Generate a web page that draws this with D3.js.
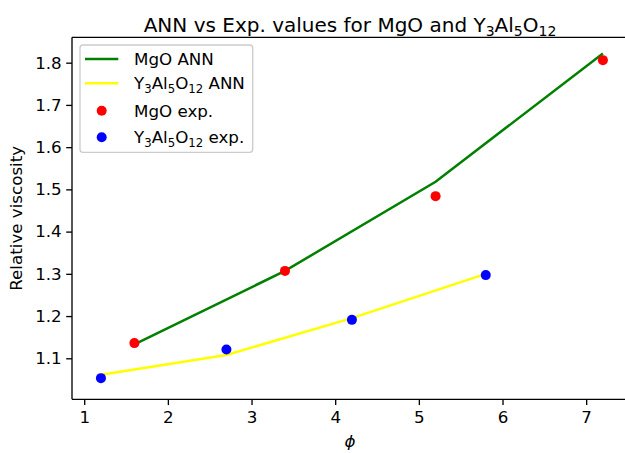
<!DOCTYPE html>
<html>
<head>
<meta charset="utf-8">
<script src="https://cdn.jsdelivr.net/npm/d3@7"></script>
<style>
  body { margin: 0; background: #fff; }
  text { font-family: "DejaVu Sans", sans-serif; fill: #000; }
</style>
</head>
<body>
<div id="vis"></div>
<script>
// values
const mgoAnnX = [1.6, 3.4, 5.2, 7.2]
const mgoAnnY = [1.133, 1.307, 1.518, 1.822]
const yagAnnX = [1.2, 2.7, 4.2, 5.8]
const yagAnnY = [1.061, 1.108, 1.195, 1.300]
const mgoExpX = [1.6, 3.4, 5.2, 7.2]
const mgoExpY = [1.136, 1.307, 1.484, 1.806]
const yagExpX = [1.2, 2.7, 4.2, 5.8]
const yagExpY = [1.053, 1.121, 1.191, 1.297]
const xTicks = [1, 2, 3, 4, 5, 6, 7]
const yTicks = [1.1, 1.2, 1.3, 1.4, 1.5, 1.6, 1.7, 1.8]

const W = 625, H = 453
const padL = 72, padR = 628, padT = 37.3, padB = 399.3

const svg = d3.select("#vis").append("svg").attr("width", W).attr("height", H)

const x = d3.scaleLinear().domain([0.854, 7.5]).range([padL, padR])
const y = d3.scaleLinear().domain([1.0029, 1.8601]).range([padB, padT])

const zip = (xs, ys) => xs.map((v, i) => [v, ys[i]])

// helper for "Y3Al5O12" style text with subscripts
function chem(sel, parts, size) {
    let shift = 0
    parts.forEach(p => {
        const sub = typeof p !== "string"
        const target = sub ? size * 0.2 : 0
        sel.append("tspan")
            .attr("font-size", sub ? size * 0.7 : size)
            .attr("dy", target - shift)
            .text(sub ? p.sub : p)
        shift = target
    })
}

const plot = svg.append("g")

const line = d3.line().x(d => x(d[0])).y(d => y(d[1]))

plot.append("path").datum(zip(mgoAnnX, mgoAnnY))
    .attr("d", line).attr("fill", "none").attr("stroke", "green").attr("stroke-width", 2.5)
plot.append("path").datum(zip(yagAnnX, yagAnnY))
    .attr("d", line).attr("fill", "none").attr("stroke", "yellow").attr("stroke-width", 2.5)

plot.selectAll(".mgo").data(zip(mgoExpX, mgoExpY)).enter().append("circle")
    .attr("cx", d => x(d[0])).attr("cy", d => y(d[1])).attr("r", 5).attr("fill", "red")
plot.selectAll(".yag").data(zip(yagExpX, yagExpY)).enter().append("circle")
    .attr("cx", d => x(d[0])).attr("cy", d => y(d[1])).attr("r", 5).attr("fill", "blue")

// axes
const xAxis = svg.append("g").attr("transform", `translate(0,${padB})`)
    .call(d3.axisBottom(x).tickValues(xTicks).tickSize(5.8).tickPadding(6).tickFormat(d3.format("d")))
const yAxis = svg.append("g").attr("transform", `translate(${padL},0)`)
    .call(d3.axisLeft(y).tickValues(yTicks).tickSize(5.8).tickPadding(4.5).tickFormat(d3.format(".1f")))

;[xAxis, yAxis].forEach(a => {
    a.select(".domain").attr("stroke", "#000").attr("stroke-width", 1.33)
    a.selectAll(".tick line").attr("stroke", "#000").attr("stroke-width", 1.33)
    a.selectAll(".tick text").attr("font-size", 16.7).attr("font-family", "DejaVu Sans").attr("fill", "#000")
})
xAxis.select(".domain").attr("d", `M${padL},0H${padR}`)
yAxis.select(".domain").attr("d", `M0,${padB}V${padT}`)
svg.append("line").attr("x1", padL).attr("x2", padR).attr("y1", padT).attr("y2", padT)
    .attr("stroke", "#000").attr("stroke-width", 1.33)

// labels
const title = svg.append("text").attr("x", (padL + padR) / 2).attr("y", 31.5).attr("text-anchor", "middle")
chem(title, ["ANN vs Exp. values for MgO and Y", {sub: "3"}, "Al", {sub: "5"}, "O", {sub: "12"}], 20)

svg.append("text").attr("transform", `translate(21.5,${(padT + padB) / 2}) rotate(-90)`)
    .attr("text-anchor", "middle").attr("font-size", 16.7).text("Relative viscosity")

svg.append("text").attr("x", (padL + padR) / 2).attr("y", 447).attr("text-anchor", "middle")
    .attr("font-size", 16.7).attr("font-style", "italic").text("ϕ")

// legend
const lg = svg.append("g")
lg.append("rect").attr("x", 80).attr("y", 45).attr("width", 172.7).attr("height", 107.3)
    .attr("rx", 3).attr("fill", "#fff").attr("fill-opacity", 0.8).attr("stroke", "#ccc").attr("stroke-width", 1.33)

const legendItems = [
    {kind: "line", color: "green", label: ["MgO ANN"], cy: 59},
    {kind: "line", color: "yellow", label: ["Y", {sub: "3"}, "Al", {sub: "5"}, "O", {sub: "12"}, " ANN"], cy: 83.3},
    {kind: "dot", color: "red", label: ["MgO exp."], cy: 110.7},
    {kind: "dot", color: "blue", label: ["Y", {sub: "3"}, "Al", {sub: "5"}, "O", {sub: "12"}, " exp."], cy: 137.3}
]
legendItems.forEach(it => {
    if (it.kind === "line") {
        lg.append("line").attr("x1", 85).attr("x2", 118.3).attr("y1", it.cy).attr("y2", it.cy)
            .attr("stroke", it.color).attr("stroke-width", 2.5)
    } else {
        lg.append("circle").attr("cx", 101.7).attr("cy", it.cy).attr("r", 5).attr("fill", it.color)
    }
    const t = lg.append("text").attr("x", 134).attr("y", it.cy + 6)
    chem(t, it.label, 16.7)
})
</script>
</body>
</html>
